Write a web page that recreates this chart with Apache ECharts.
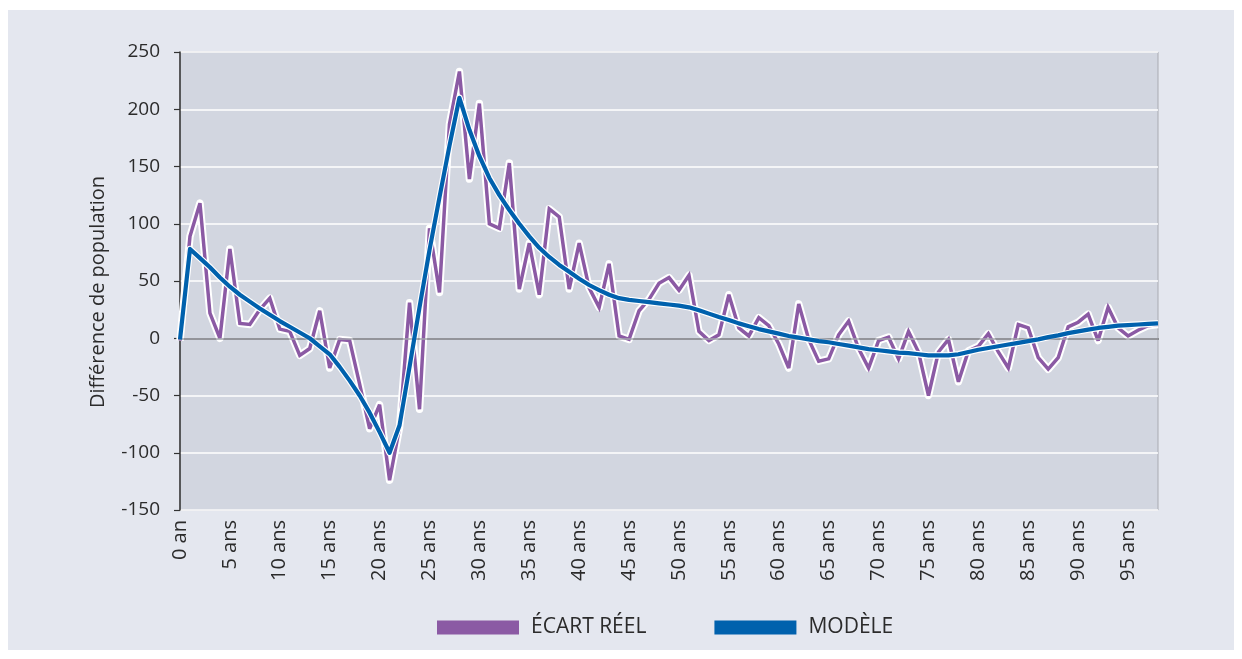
<!DOCTYPE html>
<html>
<head>
<meta charset="utf-8">
<script src="https://cdn.jsdelivr.net/npm/echarts@6/dist/echarts.min.js"></script>
<style>
  html, body { margin: 0; padding: 0; background: #ffffff; }
  #panel { position: absolute; left: 8px; top: 10px; width: 1226px; height: 640px; background: #e4e7ef; }
  #chart { position: absolute; left: 0; top: 0; width: 1242px; height: 659px; }
</style>
</head>
<body>
<div id="panel"></div>
<div id="chart"></div>
<script>
// Categories: age 0 .. 98
const ages = Array.from({ length: 99 }, (_, i) => (i === 0 ? '0 an' : i + ' ans'));

// Actual gap (purple)
const ecartReel = [
  -2, 89, 118, 22, 0, 78, 13, 12, 25, 35,
  8, 6, -15, -9, 24, -26, -1, -2, -40, -79,
  -58, -124, -78, 31, -62, 96, 40, 187, 233, 139,
  205, 100, 96, 153, 43, 83, 38, 113, 106, 43,
  83, 44, 27, 65, 2, -1, 24, 34, 48, 53,
  42, 55, 6, -2, 3, 38, 9, 2, 18, 11,
  -5, -26, 30, -1, -20, -18, 3, 15, -9, -26,
  -2, 1, -18, 6, -12, -50, -12, -1, -38, -11,
  -7, 4, -12, -26, 12, 9, -17, -27, -17, 10,
  14, 21, -2, 27, 9, 2, 7, 11, 12
];

// Model (blue)
const modele = [
  -1, 78, 70, 62, 53, 45, 38, 32, 26, 20.5,
  15, 10, 5, 0, -7, -14, -25, -37, -50, -65,
  -82, -100, -76, -25, 27, 77, 123, 168, 210, 182,
  159, 140, 125, 112, 100, 89, 79, 71, 64, 58,
  52, 46.5, 42, 38, 35, 33.5, 32.5, 31.5, 30.5, 29.5,
  28.5, 27, 24.5, 21.5, 18.5, 16, 13, 10.5, 8, 6,
  4, 2, 0.5, -1, -2.5, -3.5, -5, -6.5, -8, -9.5,
  -10.5, -11.5, -12.5, -13, -14, -15, -15, -15, -14, -12,
  -10, -8.5, -7, -5.5, -4, -2.5, -1, 1, 2.5, 4.5,
  6, 7.5, 9, 10, 11, 11.5, 12, 12.5, 13
];

const yTicks = { min: -150, max: 250, interval: 50 };

const FONT = '"Open Sans", "Noto Sans", sans-serif';
const PURPLE = '#8b5aa4';
const BLUE = '#0061ad';

const chart = echarts.init(document.getElementById('chart'), null, { renderer: 'canvas' });
chart.setOption({
  backgroundColor: 'transparent',
  animation: false,
  textStyle: { fontFamily: FONT },
  grid: {
    left: 180, right: 84, top: 52, bottom: 149,
    show: true, backgroundColor: '#d2d6e0', borderColor: '#a9abb2', borderWidth: 1
  },
  legend: {
    data: ['ÉCART RÉEL', 'MODÈLE'],
    left: 432, top: 612,
    icon: 'rect', itemWidth: 82, itemHeight: 14, itemGap: 68,
    textStyle: { fontFamily: FONT, fontSize: 21, color: '#2b2b2b', padding: [0, 0, 0, 7] }
  },
  xAxis: {
    type: 'category',
    data: ages,
    boundaryGap: false,
    axisLine: { lineStyle: { color: '#333333', width: 1.5 } },
    axisTick: { show: false },
    axisLabel: { interval: 4, rotate: 90, margin: 10, fontSize: 20, color: '#2b2b2b', fontFamily: FONT },
    splitLine: { show: false }
  },
  yAxis: {
    type: 'value',
    min: yTicks.min, max: yTicks.max, interval: yTicks.interval,
    name: 'Différence de population',
    nameLocation: 'middle', nameGap: 72, nameRotate: 90,
    nameTextStyle: { fontSize: 20, color: '#2b2b2b', fontFamily: FONT, padding: [0, 22, 0, 0] },
    axisLine: { show: true, lineStyle: { color: '#333333', width: 1.5 } },
    axisTick: { show: true, length: 6, lineStyle: { color: '#333333', width: 1.2 } },
    axisLabel: { margin: 20, fontSize: 19, color: '#2b2b2b', fontFamily: FONT },
    splitLine: { show: true, lineStyle: { color: '#ffffff', width: 1.5 } }
  },
  series: [
    {
      name: 'zero', type: 'line', data: [], z: 1, silent: true,
      markLine: {
        silent: true, symbol: 'none', label: { show: false },
        lineStyle: { color: '#a3a5ac', width: 1.5, type: 'solid' },
        data: [{ yAxis: 0 }]
      }
    },
    {
      name: 'halo1', type: 'line', data: ecartReel, z: 2, silent: true, symbol: 'none',
      lineStyle: { color: '#ffffff', width: 7.5, join: 'round' }
    },
    {
      name: 'ÉCART RÉEL', type: 'line', data: ecartReel, z: 3, symbol: 'none',
      itemStyle: { color: PURPLE },
      lineStyle: { color: PURPLE, width: 3.5, join: 'miter', miterLimit: 3 }
    },
    {
      name: 'halo2', type: 'line', data: modele, z: 4, silent: true, symbol: 'none',
      lineStyle: { color: '#ffffff', width: 6.5, join: 'round' }
    },
    {
      name: 'MODÈLE', type: 'line', data: modele, z: 5, symbol: 'none',
      itemStyle: { color: BLUE },
      lineStyle: { color: BLUE, width: 4.2, join: 'round' }
    }
  ]
});
</script>
</body>
</html>
